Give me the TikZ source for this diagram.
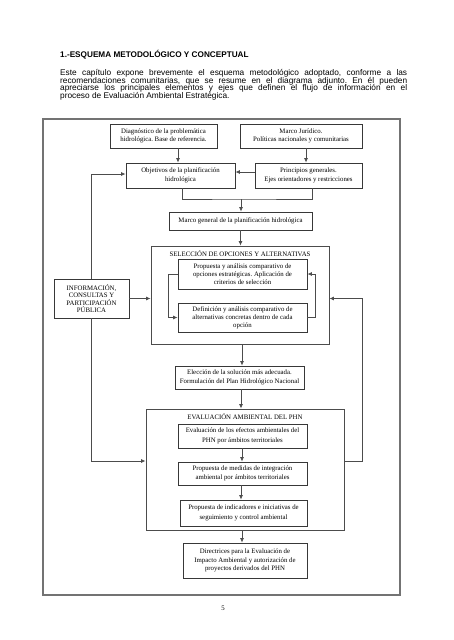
\documentclass[tikz,border=0pt]{standalone}
\usepackage{fontspec}
\setmainfont{Liberation Sans}
\newfontfamily\serifF{Liberation Serif}
\usetikzlibrary{arrows.meta}
\frenchspacing
\tikzset{
  boxx/.style={draw=black!78, line width=0.8pt, inner sep=0pt, align=center,
    font=\fontsize{6.8}{8.6}\selectfont\serifF},
  cont/.style={draw=black!70, line width=0.9pt, inner sep=0pt},
  ttl/.style={inner sep=0pt, font=\fontsize{6.8}{8.6}\selectfont\serifF},
  ln/.style={draw=black!70, line width=0.8pt},
  arr/.style={ln, -{Latex[length=4.5pt,width=4pt]}},
  para/.style={inner sep=0pt, anchor=west, font=\fontsize{8.3}{9}\selectfont\frenchspacing}
}
\begin{document}
\begin{tikzpicture}[x=1pt,y=-1pt]
\useasboundingbox (0,0) rectangle (453,640);
% heading and paragraph
\node[inner sep=0pt, anchor=west, font=\fontsize{8.2}{9}\selectfont\bfseries] (head) at (60,55) {1.-ESQUEMA METODOLÓGICO Y CONCEPTUAL};
\node[para] (p1) at (60,73.2) {\makebox[347pt][s]{Este capítulo expone brevemente el esquema metodológico adoptado, conforme a las}};
\node[para] (p2) at (60,81) {\makebox[347pt][s]{recomendaciones comunitarias, que se resume en el diagrama adjunto. En él pueden}};
\node[para] (p3) at (60,88.8) {\makebox[347pt][s]{apreciarse los principales elementos y ejes que definen el flujo de información en el}};
\node[para] (p4) at (60,96.6) {proceso de Evaluación Ambiental Estratégica.};
% outer frame
\node[draw=black!55, line width=1.1pt, inner sep=0pt, minimum width=357pt, minimum height=476pt] (frame) at (221.5,357) {};
% top boxes
\node[boxx, minimum width=107pt, minimum height=24pt] (diag) at (163.5,136) {Diagnóstico de la problemática\\hidrológica. Base de referencia.};
\node[boxx, minimum width=122pt, minimum height=24pt] (mjur) at (301,136) {Marco Jurídico.\\Políticas nacionales y comunitarias};
\node[boxx, minimum width=109pt, minimum height=25pt] (obj) at (180.5,175.5) {Objetivos de la planificación\\hidrológica};
\node[boxx, minimum width=107pt, minimum height=25pt] (princ) at (308.5,175.5) {Principios generales.\\Ejes orientadores y restricciones};
\node[boxx, minimum width=143pt, minimum height=18pt] (mgen) at (240.5,221) {Marco general de la planificación hidrológica};
% selection container
\node[cont, minimum width=178pt, minimum height=98pt] (sel) at (240,295) {};
\node[ttl] (seltit) at (240,254) {SELECCIÓN DE OPCIONES Y ALTERNATIVAS};
\node[boxx, minimum width=129pt, minimum height=30pt, font=\fontsize{6.8}{7.7}\selectfont\serifF] (sel1) at (242.5,274) {Propuesta y análisis comparativo de\\opciones estratégicas. Aplicación de\\criterios de selección};
\node[boxx, minimum width=129pt, minimum height=29pt, font=\fontsize{6.8}{7.9}\selectfont\serifF] (sel2) at (242.5,317.5) {Definición y análisis comparativo de\\alternativas concretas dentro de cada\\opción};
% info box
\node[boxx, minimum width=75pt, minimum height=39pt, font=\fontsize{6.8}{7.4}\selectfont\serifF] (info) at (91.5,298.5) {INFORMACIÓN,\\CONSULTAS Y\\PARTICIPACIÓN\\PÚBLICA};
% election
\node[boxx, minimum width=129pt, minimum height=23pt, font=\fontsize{6.8}{9.6}\selectfont\serifF] (elec) at (239.5,377.5) {Elección de la solución más adecuada.\\Formulación del Plan Hidrológico Nacional};
% evaluation container
\node[cont, minimum width=198pt, minimum height=121pt] (eval) at (245,469.5) {};
\node[ttl] (evtit) at (245,417) {EVALUACIÓN AMBIENTAL DEL PHN};
\node[boxx, minimum width=129pt, minimum height=24pt, font=\fontsize{6.8}{9.6}\selectfont\serifF] (ev1) at (242.5,436) {Evaluación de los efectos ambientales del\\PHN por ámbitos territoriales};
\node[boxx, minimum width=129pt, minimum height=23pt] (ev2) at (242.5,473.5) {Propuesta de medidas de integración\\ambiental por ámbitos territoriales};
\node[boxx, minimum width=127pt, minimum height=26pt, font=\fontsize{6.8}{9.8}\selectfont\serifF] (ev3) at (243.5,513) {Propuesta de indicadores e iniciativas de\\seguimiento y control ambiental};
\node[boxx, minimum width=124pt, minimum height=35pt] (dir) at (245,560.5) {Directrices para la Evaluación de\\Impacto Ambiental y autorización de\\proyectos derivados del PHN};
% page number
\node[ttl] (pg) at (223,608) {5};
% connectors
\draw[arr] ([xshift=-2.5pt]obj.north |- diag.south) -- ([xshift=-2.5pt]obj.north);
\draw[arr] ([xshift=-2.5pt]princ.north |- mjur.south) -- ([xshift=-2.5pt]princ.north);
\draw[arr] ([yshift=3.5pt]princ.west) -- ([yshift=3.5pt]obj.east);
\coordinate (mj) at (241,199);
\draw[ln] ([xshift=1.5pt]obj.south) |- (mj) -| ([xshift=3.5pt]princ.south);
\draw[arr] (mj) -- (mj |- mgen.north);
\draw[arr] (mgen.south) -- (mgen.south |- sel.north);
\draw[arr] (sel1.west) -- ++(-9,0) |- (sel2.west);
\draw[arr] (sel2.east) -- ++(8,0) |- (sel1.east);
\draw[arr] (info.north) |- ([yshift=1.5pt]obj.west);
\draw[arr] (info.east) -- (info.east -| sel.west);
\coordinate (fbL) at (91.5,461);
\coordinate (fbR) at (362,461);
\draw[arr] (info.south) -- (fbL) -- (fbL -| eval.west);
\draw[arr] (fbR -| eval.east) -- (fbR) -- (fbR |- info.east) -- (info.east -| sel.east);
\draw[arr] (sel.south -| 242,0) -- (elec.north -| 242,0);
\draw[arr] (elec.south -| 241,0) -- (eval.north -| 241,0);
\draw[arr] (ev1.south -| 242,0) -- (ev2.north -| 242,0);
\draw[arr] (ev2.south -| 241,0) -- (ev3.north -| 241,0);
\draw[arr] (eval.south -| 242,0) -- (dir.north -| 242,0);
\end{tikzpicture}
\end{document}
